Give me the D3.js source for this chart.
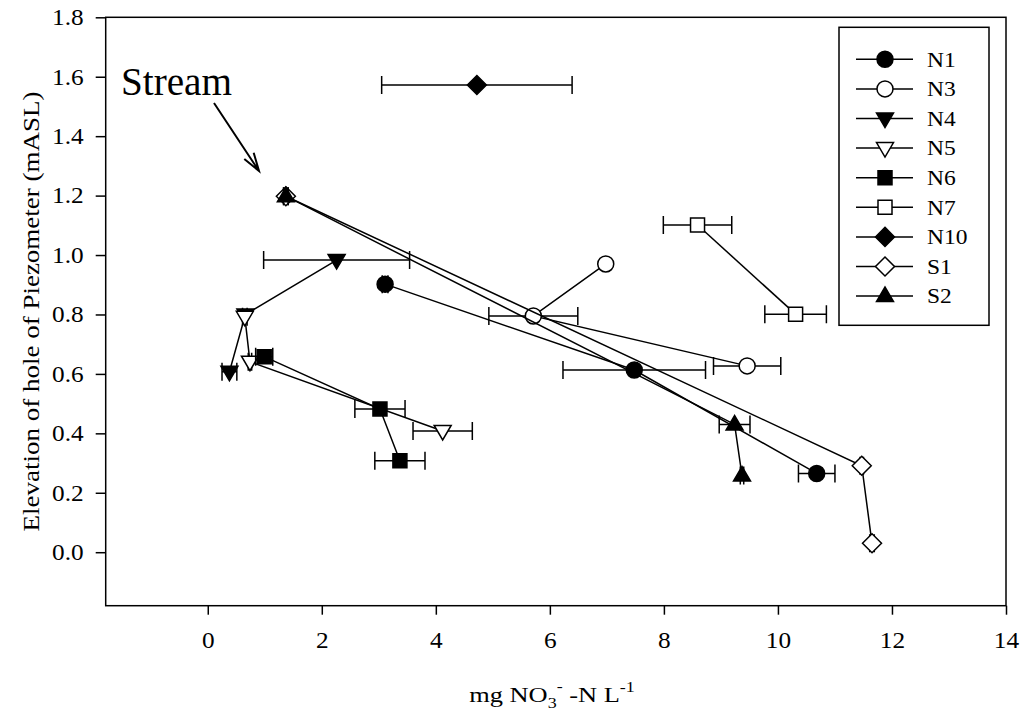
<!DOCTYPE html>
<html>
<head>
<meta charset="utf-8">
<script src="https://cdn.jsdelivr.net/npm/d3@7"></script>
<style>
  html, body { margin: 0; padding: 0; background: #fff; }
  svg { display: block; font-family: "Liberation Serif", "Times New Roman", serif; }
</style>
</head>
<body>
<svg id="chart" width="1024" height="713"></svg>
<script>
// Nitrate concentration vs. piezometer hole elevation, one series per well
const seriesNames = ["N1", "N3", "N4", "N5", "N6", "N7", "N10", "S1", "S2"];

const n1X = [3.11, 7.48, 10.68], n1Y = [0.902, 0.613, 0.265], n1Err = [0.05, 1.25, 0.32];
const n3X = [6.98, 5.71, 9.46], n3Y = [0.970, 0.795, 0.627], n3Err = [0, 0.78, 0.59];
const n4X = [2.26, 0.66, 0.38], n4Y = [0.983, 0.800, 0.607], n4Err = [1.28, 0, 0.13];
const n5X = [0.65, 0.74, 4.12], n5Y = [0.792, 0.641, 0.408], n5Err = [0.04, 0.03, 0.52];
const n6X = [0.99, 3.02, 3.37], n6Y = [0.658, 0.482, 0.308], n6Err = [0.15, 0.44, 0.44];
const n7X = [8.59, 10.31], n7Y = [1.101, 0.801], n7Err = [0.60, 0.54];
const n10X = [4.72], n10Y = [1.572], n10Err = [1.67];
const s1X = [1.37, 11.47, 11.65], s1Y = [1.198, 0.291, 0.030], s1Err = [0.04, 0.03, 0.04];
const s2X = [1.37, 9.24, 9.37], s2Y = [1.198, 0.430, 0.258], s2Err = [0.04, 0.27, 0.03];

const xTicks = [0, 2, 4, 6, 8, 10, 12, 14];
const yTicks = [0.0, 0.2, 0.4, 0.6, 0.8, 1.0, 1.2, 1.4, 1.6, 1.8];

const seriesX = [n1X, n3X, n4X, n5X, n6X, n7X, n10X, s1X, s2X];
const seriesY = [n1Y, n3Y, n4Y, n5Y, n6Y, n7Y, n10Y, s1Y, s2Y];
const seriesErr = [n1Err, n3Err, n4Err, n5Err, n6Err, n7Err, n10Err, s1Err, s2Err];

// marker style per series: shape + filled
const markerStyle = {
  N1: { shape: "circle", fill: true },
  N3: { shape: "circle", fill: false },
  N4: { shape: "tridown", fill: true },
  N5: { shape: "tridown", fill: false },
  N6: { shape: "square", fill: true },
  N7: { shape: "square", fill: false },
  N10: { shape: "diamond", fill: true },
  S1: { shape: "diamond", fill: false },
  S2: { shape: "triup", fill: true }
};

const svg = d3.select("#chart");
const plotLeft = 105.7, plotRight = 1006, plotTop = 17.3, plotBottom = 605.7;

const x = d3.scaleLinear().domain([-1.79, 14]).range([plotLeft, plotRight]);
const y = d3.scaleLinear().domain([-0.18, 1.8]).range([plotBottom, plotTop]);

const ink = "#000";
const lw = 1.5;
const serif = "Liberation Serif, Times New Roman, serif";
const widen = 1.1; // horizontal stretch applied to label glyphs

function markerPath(shape) {
  switch (shape) {
    case "circle": return "M-8,0A8,8 0 1,0 8,0A8,8 0 1,0 -8,0Z";
    case "square": return "M-7,-7H7V7H-7Z";
    case "tridown": return "M-8.5,-5.5H8.5L0,9Z";
    case "triup": return "M-8.5,5.5H8.5L0,-9Z";
    case "diamond": return "M0,-9.5L9.5,0L0,9.5L-9.5,0Z";
  }
}

// frame
svg.append("rect")
  .attr("x", plotLeft).attr("y", plotTop)
  .attr("width", plotRight - plotLeft).attr("height", plotBottom - plotTop)
  .attr("fill", "none").attr("stroke", ink).attr("stroke-width", lw);

// y axis
const yAxis = d3.axisLeft(y).tickValues(yTicks).tickFormat(d3.format(".1f"))
  .tickSize(10).tickSizeOuter(0).tickPadding(10);
const gy = svg.append("g").attr("transform", `translate(${plotLeft},0)`).call(yAxis);
gy.select(".domain").remove();
gy.selectAll("line").attr("stroke", ink).attr("stroke-width", lw);
gy.selectAll("text").attr("font-size", 23).attr("fill", ink)
  .attr("font-family", serif)
  .attr("x", -22 / widen)
  .attr("transform", `scale(${widen},1)`);

// x axis
const xAxis = d3.axisBottom(x).tickValues(xTicks).tickFormat(d3.format("d"))
  .tickSize(9).tickSizeOuter(0).tickPadding(17);
const gx = svg.append("g").attr("transform", `translate(0,${plotBottom})`).call(xAxis);
gx.select(".domain").remove();
gx.selectAll("line").attr("stroke", ink).attr("stroke-width", lw);
gx.selectAll("text").attr("font-size", 23).attr("fill", ink)
  .attr("font-family", serif)
  .attr("transform", `scale(${widen},1)`);

// axis titles
svg.append("text")
  .attr("transform", `translate(31,${(plotTop + plotBottom) / 2}) rotate(-90)`)
  .attr("text-anchor", "middle").attr("dominant-baseline", "central")
  .attr("font-size", 23).attr("fill", ink)
  .attr("textLength", 440).attr("lengthAdjust", "spacingAndGlyphs")
  .text("Elevation of hole of Piezometer (mASL)");

const xtG = svg.append("g").attr("transform", "translate(552,702) scale(1.2,1)");
const xt = xtG.append("text")
  .attr("x", 0).attr("y", 0)
  .attr("text-anchor", "middle").attr("font-size", 22).attr("fill", ink);
xt.append("tspan").text("mg NO");
xt.append("tspan").attr("dy", 6).attr("font-size", 15).text("3");
xt.append("tspan").attr("dy", -17).attr("font-size", 15).text("-");
xt.append("tspan").attr("dy", 11).text(" -N L");
xt.append("tspan").attr("dy", -10).attr("font-size", 15).text("-1");

// data series
const line = d3.line();
seriesNames.forEach((name, i) => {
  const xs = seriesX[i], ys = seriesY[i], es = seriesErr[i];
  const pts = xs.map((v, j) => ({ x: v, y: ys[j], e: es[j] }));
  const g = svg.append("g").attr("class", "series-" + name);

  if (pts.length > 1) {
    g.append("path")
      .attr("d", line(pts.map(p => [x(p.x), y(p.y)])))
      .attr("fill", "none").attr("stroke", ink).attr("stroke-width", lw);
  }

  // horizontal error bars with caps
  pts.filter(p => p.e > 0).forEach(p => {
    const x0 = x(p.x - p.e), x1 = x(p.x + p.e), yy = y(p.y);
    g.append("path")
      .attr("d", `M${x0},${yy}H${x1}M${x0},${yy - 9}V${yy + 9}M${x1},${yy - 9}V${yy + 9}`)
      .attr("fill", "none").attr("stroke", ink).attr("stroke-width", lw);
  });

  const st = markerStyle[name];
  g.selectAll(".mk").data(pts).join("path")
    .attr("class", "mk")
    .attr("transform", p => `translate(${x(p.x)},${y(p.y)})`)
    .attr("d", markerPath(st.shape))
    .attr("fill", st.fill ? ink : "#fff")
    .attr("stroke", ink).attr("stroke-width", lw);
});

// "Stream" annotation with arrow
svg.append("text")
  .attr("x", 121).attr("y", 95)
  .attr("font-size", 39).attr("fill", ink)
  .attr("textLength", 111).attr("lengthAdjust", "spacingAndGlyphs")
  .text("Stream");
const ax0 = 214, ay0 = 103, ax1 = 259, ay1 = 171;
const ang = Math.atan2(ay1 - ay0, ax1 - ax0);
const hl = 19, ha = 0.3;
svg.append("path")
  .attr("d", `M${ax0},${ay0}L${ax1},${ay1}` +
    `M${ax1 - hl * Math.cos(ang - ha)},${ay1 - hl * Math.sin(ang - ha)}L${ax1},${ay1}` +
    `L${ax1 - hl * Math.cos(ang + ha)},${ay1 - hl * Math.sin(ang + ha)}`)
  .attr("fill", "none").attr("stroke", ink).attr("stroke-width", 2);

// legend
const lg = svg.append("g");
lg.append("rect")
  .attr("x", 839).attr("y", 27.3).attr("width", 150).attr("height", 298)
  .attr("fill", "#fff").attr("stroke", ink).attr("stroke-width", lw);
seriesNames.forEach((name, i) => {
  const yy = 59.3 + i * 29.6;
  const st = markerStyle[name];
  lg.append("line").attr("x1", 856).attr("x2", 913).attr("y1", yy).attr("y2", yy)
    .attr("stroke", ink).attr("stroke-width", lw);
  lg.append("path").attr("transform", `translate(885,${yy})`)
    .attr("d", markerPath(st.shape))
    .attr("fill", st.fill ? ink : "#fff")
    .attr("stroke", ink).attr("stroke-width", lw);
  lg.append("g").attr("transform", `translate(927,${yy}) scale(1.12,1)`)
    .append("text").attr("x", 0).attr("y", 0).attr("dy", "0.35em")
    .attr("font-size", 21).attr("fill", ink).text(name);
});
</script>
</body>
</html>
